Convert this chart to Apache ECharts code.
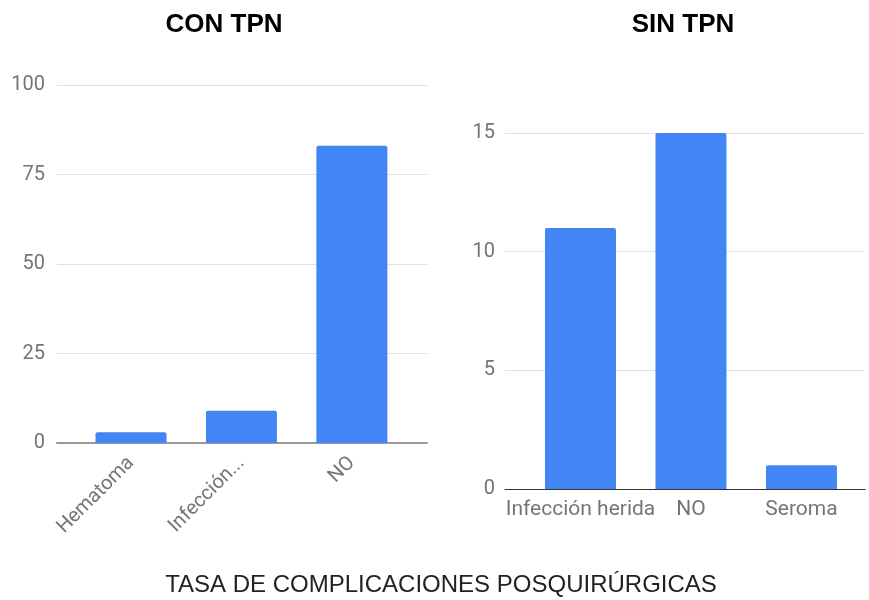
<!DOCTYPE html>
<html>
<head>
<meta charset="utf-8">
<script src="https://cdn.jsdelivr.net/npm/echarts@6/dist/echarts.min.js"></script>
<style>html,body{margin:0;padding:0;background:#fff}#c{width:869px;height:600px}</style>
</head>
<body>
<div id="c"></div>
<script>
const conCategories = ['Hematoma', 'Infección herida', 'NO'];
const conValues = [3, 9, 83];
const sinCategories = ['Infección herida', 'NO', 'Seroma'];
const sinValues = [11, 15, 1];
const conTicks = [0, 25, 50, 75, 100];
const sinTicks = [0, 5, 10, 15];
const titleCon = 'CON TPN';
const titleSin = 'SIN TPN';
const titleMain = 'TASA DE COMPLICACIONES POSQUIRÚRGICAS';

const chart = echarts.init(document.getElementById('c'), null, {renderer: 'canvas'});
const labelColor = '#757575';
const font = 'Roboto';

function idxData(vals) { return vals.map((v, i) => [i, v]); }

const option = {
  animation: false,
  backgroundColor: '#fff',
  title: [
    {text: titleCon, left: 224, top: 12, textAlign: 'center', padding: 0,
     textStyle: {fontFamily: 'Liberation Sans', fontWeight: 'bold', fontSize: 26, color: '#000'}},
    {text: titleSin, left: 683, top: 12, textAlign: 'center', padding: 0,
     textStyle: {fontFamily: 'Liberation Sans', fontWeight: 'bold', fontSize: 26, color: '#000'}},
    {text: titleMain, left: 441, top: 573, textAlign: 'center', padding: 0,
     textStyle: {fontFamily: 'Liberation Sans', fontWeight: 'normal', fontSize: 24, color: '#222'}}
  ],
  grid: [
    {left: 57, right: 442, top: 85, bottom: 157},
    {left: 505, right: 4, top: 133, bottom: 111}
  ],
  xAxis: [
    {type: 'value', gridIndex: 0, min: -0.67, max: 2.68,
     splitLine: {show: false}, axisTick: {show: false},
     axisLine: {show: true, lineStyle: {color: '#9a9a9a', width: 2}},
     axisLabel: {customValues: [0, 1, 2], formatter: v => conCategories[Math.round(v)],
       rotate: 45, margin: 17, color: labelColor, fontFamily: font, fontSize: 20,
       width: 101, overflow: 'truncate', ellipsis: '...'}},
    {type: 'value', gridIndex: 1, min: -0.683, max: 2.575,
     splitLine: {show: false}, axisTick: {show: false},
     axisLine: {show: true, lineStyle: {color: '#333', width: 1}},
     axisLabel: {customValues: [0, 1, 2], formatter: v => sinCategories[Math.round(v)],
       margin: 10, color: labelColor, fontFamily: font, fontSize: 21}}
  ],
  yAxis: [
    {type: 'value', gridIndex: 0, min: conTicks[0], max: conTicks[conTicks.length - 1], interval: conTicks[1] - conTicks[0],
     axisLine: {show: false}, axisTick: {show: false},
     splitLine: {lineStyle: {color: '#e0e0e0', width: 1}},
     axisLabel: {margin: 12, color: labelColor, fontFamily: font, fontSize: 20}},
    {type: 'value', gridIndex: 1, min: sinTicks[0], max: sinTicks[sinTicks.length - 1], interval: sinTicks[1] - sinTicks[0],
     axisLine: {show: false}, axisTick: {show: false},
     splitLine: {lineStyle: {color: '#e0e0e0', width: 1}},
     axisLabel: {margin: 10, color: labelColor, fontFamily: font, fontSize: 20}}
  ],
  series: [
    {type: 'bar', xAxisIndex: 0, yAxisIndex: 0, data: idxData(conValues), barWidth: 71,
     itemStyle: {color: '#4285F4', borderRadius: [2, 2, 0, 0]}},
    {type: 'bar', xAxisIndex: 1, yAxisIndex: 1, data: idxData(sinValues), barWidth: 71,
     itemStyle: {color: '#4285F4', borderRadius: [2, 2, 0, 0]}}
  ]
};
chart.setOption(option);
</script>
</body>
</html>
